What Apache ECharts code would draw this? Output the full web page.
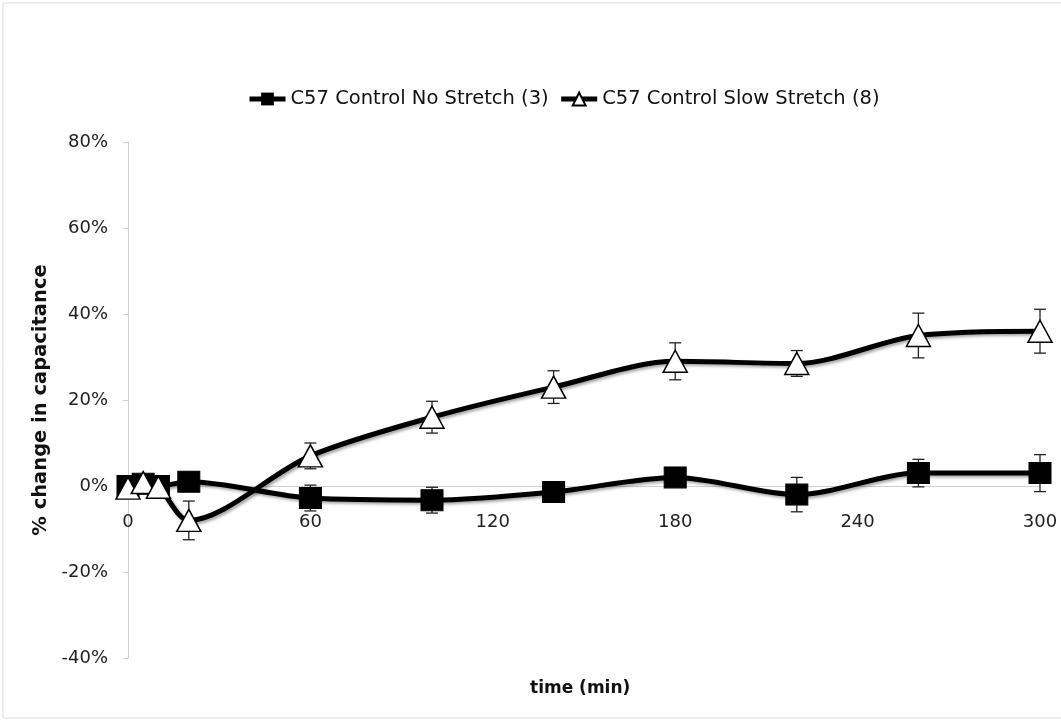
<!DOCTYPE html>
<html><head><meta charset="utf-8">
<script src="https://cdn.jsdelivr.net/npm/echarts@6/dist/echarts.min.js"></script>
<style>html,body{margin:0;padding:0;background:#fff}#c{width:1061px;height:725px}</style>
</head><body><div id="c"></div>
<script>
const times = [0, 5, 10, 20, 60, 100, 140, 180, 220, 260, 300];
const noStretch = [0, 0.5, 0, 1, -2.8, -3.3, -1.4, 2, -2, 3, 3];
const noStretchErr = [1, 1, 1, 2, 3, 3, 2, 2, 4, 3.2, 4.3];
const slowStretch = [-0.5, 0.8, -0.3, -8, 7, 16, 23, 29, 28.5, 35, 36];
const slowStretchErr = [1, 1, 1, 4.5, 3, 3.7, 3.8, 4.3, 3, 5.2, 5.1];
const seriesNames = ['C57 Control No Stretch (3)', 'C57 Control Slow Stretch (8)'];
const yTicks = [-40, -20, 0, 20, 40, 60, 80];
const xTicks = [0, 60, 120, 180, 240, 300];

const FONT = 'DejaVu Sans';
const chart = echarts.init(document.getElementById('c'), null, {renderer: 'canvas'});

function pairs(vals) { return times.map((t, i) => [t, vals[i]]); }
function errData(vals, errs) { return times.map((t, i) => [t, vals[i] - errs[i], vals[i] + errs[i]]); }
function errRender(params, api) {
  const x = api.value(0);
  const lo = api.coord([x, api.value(1)]);
  const hi = api.coord([x, api.value(2)]);
  const w = 6;
  const style = {stroke: '#222', lineWidth: 1.3};
  return {type: 'group', children: [
    {type: 'line', shape: {x1: lo[0], y1: lo[1], x2: hi[0], y2: hi[1]}, style},
    {type: 'line', shape: {x1: lo[0] - w, y1: lo[1], x2: lo[0] + w, y2: lo[1]}, style},
    {type: 'line', shape: {x1: hi[0] - w, y1: hi[1], x2: hi[0] + w, y2: hi[1]}, style}
  ]};
}
const lineStyle = {color: '#000', width: 5, shadowColor: 'rgba(0,0,0,0.35)', shadowBlur: 3, shadowOffsetX: 2, shadowOffsetY: 2};

chart.setOption({
  animation: false,
  backgroundColor: '#fff',
  grid: {left: 128, right: 21, top: 142, bottom: 67, containLabel: false},
  legend: {
    left: 242, top: 84, itemGap: 10, itemWidth: 36, itemHeight: 16,
    textStyle: {fontFamily: FONT, fontSize: 19.5, color: '#111'},
    lineStyle: {width: 5, color: '#000'},
    data: seriesNames
  },
  xAxis: {
    type: 'value', min: 0, max: 300, interval: 60,
    position: 'bottom', offset: -172,
    axisLine: {onZero: false, lineStyle: {color: '#d0d0d0', width: 1}},
    axisTick: {show: false},
    splitLine: {show: false},
    axisLabel: {fontFamily: FONT, fontSize: 18, color: '#222', margin: 27,
      formatter: v => xTicks.includes(v) ? String(v) : ''}
  },
  yAxis: {
    type: 'value', min: -40, max: 80, interval: 20,
    axisLine: {show: true, lineStyle: {color: '#d0d0d0', width: 1}},
    axisTick: {show: true, length: 5, lineStyle: {color: '#d0d0d0'}},
    splitLine: {show: false},
    axisLabel: {fontFamily: FONT, fontSize: 18, color: '#222', margin: 20,
      formatter: v => yTicks.includes(v) ? v + '%' : ''},
    name: '% change in capacitance', nameLocation: 'middle', nameGap: 76, nameRotate: 90,
    nameTextStyle: {fontFamily: FONT, fontSize: 19.5, fontWeight: 'bold', color: '#111'}
  },
  graphic: [
    {type: 'rect', shape: {x: 3, y: 3, width: 1070, height: 715}, style: {fill: 'none', stroke: '#dcdcdc', lineWidth: 1}, silent: true, z: -1},
    {type: 'text', left: 530, top: 680, style: {text: 'time (min)', font: 'bold 17px "DejaVu Sans"', fill: '#111'}}
  ],
  series: [
    {type: 'custom', name: 'errNo', renderItem: errRender, data: errData(noStretch, noStretchErr), z: 1, encode: {x: 0, y: [1, 2]}},
    {type: 'custom', name: 'errSlow', renderItem: errRender, data: errData(slowStretch, slowStretchErr), z: 1, encode: {x: 0, y: [1, 2]}},
    {name: seriesNames[0], type: 'line', data: pairs(noStretch), smooth: 0.3,
      symbol: 'rect', symbolSize: [22, 21], showAllSymbol: true,
      itemStyle: {color: '#000', borderColor: '#000'}, lineStyle, z: 3},
    {name: seriesNames[1], type: 'line', data: pairs(slowStretch), smooth: 0.3,
      symbol: 'triangle', symbolSize: [24, 22], showAllSymbol: true,
      itemStyle: {color: '#fff', borderColor: '#000', borderWidth: 1.5}, lineStyle, z: 4}
  ]
});
</script></body></html>
